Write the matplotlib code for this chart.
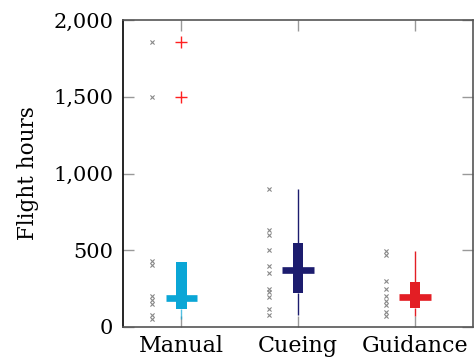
import matplotlib
matplotlib.use("Agg")
import matplotlib.pyplot as plt
from matplotlib.ticker import FuncFormatter

# categories and box statistics
categories = ["Manual", "Cueing", "Guidance"]
lower_whisker = [50, 75, 72]
q1 = [115, 220, 122]
median = [186, 371, 195]
q3 = [421, 545, 295]
upper_whisker = [421, 897, 497]
box_colors = ["#0aa6d6", "#1c1c6e", "#e31e24"]

# raw observations shown as grey crosses
manual_points = [55, 80, 150, 175, 200, 405, 430, 1500, 1860]
cueing_points = [75, 115, 195, 225, 250, 350, 400, 500, 600, 630, 900]
guidance_points = [70, 95, 140, 170, 200, 250, 300, 470, 495]

# outliers (red plus)
outlier_cat = [0, 0]
outlier_vals = [1500, 1860]

plt.rcParams['font.family'] = ['DejaVu Serif']

fig = plt.figure(figsize=(4.74, 3.6), dpi=100)
ax = fig.add_axes([0.2595, 0.0917, 0.739, 0.8527])

pos = [1, 2, 3]
all_points = [manual_points, cueing_points, guidance_points]

for i, p in enumerate(pos):
    c = box_colors[i]
    pts = all_points[i]
    ax.scatter([p - 0.25] * len(pts), pts, marker="x", s=9, color="#888888",
               linewidths=0.8, zorder=3)
    ax.vlines(p, lower_whisker[i], q1[i], color=c, lw=1.0, zorder=3,
              alpha=0.7 if i == 0 else 1.0)
    ax.vlines(p, q3[i], upper_whisker[i], color=c, lw=1.0, zorder=3)
    ax.bar(p, q3[i] - q1[i], bottom=q1[i], width=0.09, color=c, zorder=4)
    ax.hlines(median[i], p - 0.135, p + 0.135, color=c, lw=4.8, zorder=4)

ax.scatter([pos[k] for k in outlier_cat], outlier_vals, marker="+", s=70,
           color="#ff2020", linewidths=1.0, zorder=5)

ax.set_xlim(0.5, 3.5)
ax.set_ylim(0, 2000)
ax.set_xticks(pos)
ax.set_xticklabels(categories)
ax.set_yticks([0, 500, 1000, 1500, 2000])
ax.yaxis.set_major_formatter(FuncFormatter(lambda v, _: f"{int(v):,}"))
ax.set_ylabel("Flight hours", fontsize=15.5, labelpad=10)

ax.tick_params(direction="in", length=8, width=1, color="#999999",
               top=True, right=True, pad=7)
ax.tick_params(axis="x", labelsize=16, pad=6)
ax.tick_params(axis="y", labelsize=15)

for s in ax.spines.values():
    s.set_color("#555555")
    s.set_linewidth(1.2)
ax.spines["left"].set_color("black")

fig.savefig("out.png", dpi=100)
